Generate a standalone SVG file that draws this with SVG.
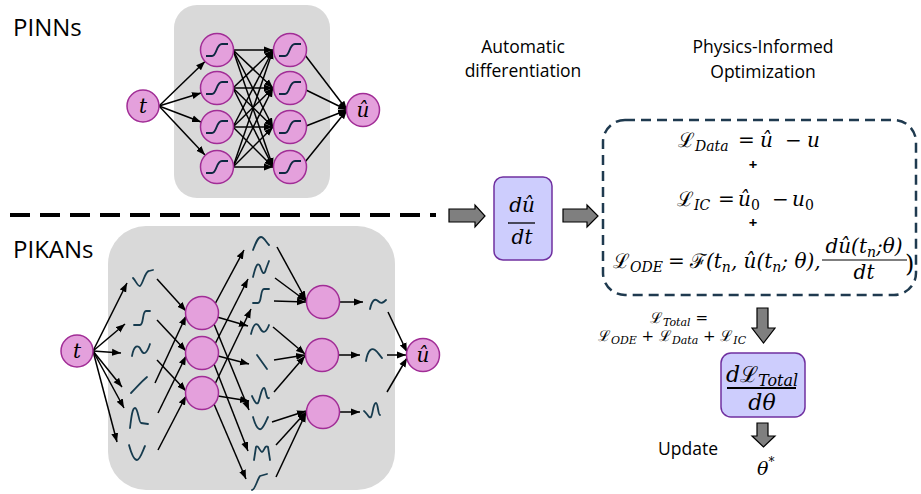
<svg xmlns="http://www.w3.org/2000/svg" width="921" height="494" viewBox="0 0 921 494">
<defs>
<marker id="ah" markerUnits="userSpaceOnUse" markerWidth="10" markerHeight="8" refX="9" refY="4" orient="auto"><path d="M0,0.5 L9,4 L0,7.5z" fill="#000"/></marker>
<path id="sig" d="M-11,6 L-5,6 C0,6 -1,-6 5,-6 L11,-6"/>
</defs>
<style>
.lbl{font-family:"Open Sans","Liberation Sans",sans-serif;fill:#000}
.m{font-family:"DejaVu Serif","Liberation Serif",serif;font-style:italic;fill:#000}
.up{font-style:normal}
.node{fill:#e4a0dc;stroke:#a12d96;stroke-width:1.5}
.bg{fill:#d9d9d9}
.cn line{stroke:#000;stroke-width:1.5;marker-end:url(#ah)}
.sp{fill:none;stroke:#163b4e;stroke-width:1.8;stroke-linecap:round;stroke-linejoin:round}
.sg{fill:none;stroke:#0e2841;stroke-width:1.8;stroke-linejoin:round}
.blk{fill:#7f7f7f;stroke:#000;stroke-width:1.2}
.box{fill:#cdcdfd;stroke:#7030a0;stroke-width:1.5}
</style>

<!-- labels -->
<text class="lbl" x="13" y="36" font-size="24">PINNs</text>
<text class="lbl" x="13" y="258" font-size="24">PIKANs</text>
<text class="lbl" x="523" y="53" font-size="17.5" text-anchor="middle">Automatic</text>
<text class="lbl" x="523" y="77" font-size="17.5" text-anchor="middle">differentiation</text>
<text class="lbl" x="763" y="53" font-size="17.5" text-anchor="middle">Physics-Informed</text>
<text class="lbl" x="763" y="78" font-size="17.5" text-anchor="middle">Optimization</text>
<text class="lbl" x="658" y="455" font-size="17.5">Update</text>

<!-- separator -->
<line x1="10" y1="215" x2="436" y2="215" stroke="#000" stroke-width="4" stroke-dasharray="20 10"/>

<!-- background boxes -->
<rect class="bg" x="174" y="5" width="156" height="193" rx="23"/>
<rect class="bg" x="108" y="226" width="287" height="264" rx="38"/>

<!-- connectors -->
<g id="connectors" class="cn">
<line x1="159" y1="106" x2="205" y2="61.5"/>
<line x1="159" y1="106" x2="201" y2="93"/>
<line x1="159" y1="106" x2="201" y2="122"/>
<line x1="159" y1="106" x2="205" y2="155"/>
<line x1="233" y1="50" x2="273" y2="50"/><line x1="233" y1="50" x2="273" y2="88"/><line x1="233" y1="50" x2="273" y2="127"/><line x1="233" y1="50" x2="273" y2="167"/>
<line x1="233" y1="88" x2="273" y2="50"/><line x1="233" y1="88" x2="273" y2="88"/><line x1="233" y1="88" x2="273" y2="127"/><line x1="233" y1="88" x2="273" y2="167"/>
<line x1="233" y1="127" x2="273" y2="50"/><line x1="233" y1="127" x2="273" y2="88"/><line x1="233" y1="127" x2="273" y2="127"/><line x1="233" y1="127" x2="273" y2="167"/>
<line x1="233" y1="167" x2="273" y2="50"/><line x1="233" y1="167" x2="273" y2="88"/><line x1="233" y1="167" x2="273" y2="127"/><line x1="233" y1="167" x2="273" y2="167"/>
<line x1="305" y1="55" x2="347" y2="110"/>
<line x1="306" y1="90" x2="347" y2="110"/>
<line x1="306" y1="126" x2="347" y2="110"/>
<line x1="305" y1="162" x2="347" y2="110"/>

<line x1="93" y1="351" x2="127" y2="283"/>
<line x1="93" y1="351" x2="125" y2="324"/>
<line x1="93" y1="351" x2="121" y2="353"/>
<line x1="93" y1="351" x2="122" y2="387"/>
<line x1="93" y1="351" x2="124" y2="408"/>
<line x1="93" y1="351" x2="117" y2="442"/>
<line x1="157" y1="279" x2="186" y2="311"/>
<line x1="157" y1="320" x2="186" y2="351"/>
<line x1="157" y1="360" x2="186" y2="391"/>
<line x1="155" y1="383" x2="186" y2="316"/>
<line x1="158" y1="413" x2="186" y2="356"/>
<line x1="158" y1="450" x2="186" y2="396"/>
<line x1="215" y1="304" x2="244" y2="250"/>
<line x1="217" y1="317" x2="248" y2="326"/>
<line x1="214" y1="324" x2="249" y2="410"/>
<line x1="215" y1="344" x2="248" y2="279"/>
<line x1="218" y1="356" x2="249" y2="364"/>
<line x1="214" y1="364" x2="248" y2="451"/>
<line x1="215" y1="384" x2="251" y2="309"/>
<line x1="218" y1="396" x2="249" y2="401"/>
<line x1="214" y1="404" x2="246" y2="479"/>
<line x1="277" y1="247" x2="306" y2="300"/>
<line x1="275" y1="278" x2="306" y2="301"/>
<line x1="274" y1="301" x2="306" y2="302"/>
<line x1="273" y1="327" x2="305" y2="354"/>
<line x1="274" y1="360" x2="305" y2="355"/>
<line x1="274" y1="392" x2="305" y2="356"/>
<line x1="272" y1="422" x2="306" y2="411"/>
<line x1="276" y1="445" x2="306" y2="412"/>
<line x1="276" y1="477" x2="306" y2="413"/>
<line x1="340" y1="302" x2="363" y2="302"/>
<line x1="339" y1="355" x2="360" y2="355"/>
<line x1="340" y1="412" x2="360" y2="412"/>
<line x1="388" y1="312" x2="407" y2="352"/>
<line x1="387" y1="355" x2="406" y2="355"/>
<line x1="387" y1="392" x2="407" y2="358"/>
</g>

<!-- PINN nodes -->
<g id="pinn-t"><circle class="node" cx="143" cy="106" r="16"/><text class="m" x="143" y="113" font-size="20" text-anchor="middle">t</text></g>
<g id="pinn-h1a"><circle class="node" cx="217" cy="50" r="16.5"/><use href="#sig" class="sg" x="217" y="50"/></g>
<g id="pinn-h1b"><circle class="node" cx="217" cy="88" r="16.5"/><use href="#sig" class="sg" x="217" y="88"/></g>
<g id="pinn-h1c"><circle class="node" cx="217" cy="127" r="16.5"/><use href="#sig" class="sg" x="217" y="127"/></g>
<g id="pinn-h1d"><circle class="node" cx="217" cy="167" r="16.5"/><use href="#sig" class="sg" x="217" y="167"/></g>
<g id="pinn-h2a"><circle class="node" cx="290" cy="50" r="16.5"/><use href="#sig" class="sg" x="290" y="50"/></g>
<g id="pinn-h2b"><circle class="node" cx="290" cy="88" r="16.5"/><use href="#sig" class="sg" x="290" y="88"/></g>
<g id="pinn-h2c"><circle class="node" cx="290" cy="127" r="16.5"/><use href="#sig" class="sg" x="290" y="127"/></g>
<g id="pinn-h2d"><circle class="node" cx="290" cy="167" r="16.5"/><use href="#sig" class="sg" x="290" y="167"/></g>
<g id="pinn-out"><circle class="node" cx="363" cy="110" r="16.5"/><text class="m" x="363" y="117" font-size="20" text-anchor="middle">û</text></g>

<!-- PIKAN nodes -->
<g id="kan-t"><circle class="node" cx="77" cy="351" r="16"/><text class="m" x="77" y="358" font-size="20" text-anchor="middle">t</text></g>
<g id="kan-l1"><circle class="node" cx="202" cy="313" r="16.5"/></g>
<g id="kan-l2"><circle class="node" cx="202" cy="353" r="16.5"/></g>
<g id="kan-l3"><circle class="node" cx="202" cy="393" r="16.5"/></g>
<g id="kan-m1"><circle class="node" cx="323" cy="302" r="16.5"/></g>
<g id="kan-m2"><circle class="node" cx="322" cy="355" r="16.5"/></g>
<g id="kan-m3"><circle class="node" cx="323" cy="412" r="16.5"/></g>
<g id="kan-out"><circle class="node" cx="423" cy="355" r="16.5"/><text class="m" x="423" y="362" font-size="20" text-anchor="middle">û</text></g>

<!-- spline glyphs -->
<g id="kan-splines" class="sp">
<path transform="translate(143,279)" d="M-10,-1 C-7,2 -5,8 -3,7 C0,5 2,-8 6,-8 L10,-9"/>
<path transform="translate(142,318)" d="M-8,7 L-2,7 C2,7 0,-7 4,-7 L8,-7"/>
<path transform="translate(141,350)" d="M-9,6 C-7,-5 -3,-6 0,0 C3,6 6,3 9,-6"/>
<path transform="translate(139,385)" d="M-8,8 C-3,3 3,-4 8,-8"/>
<path transform="translate(139,418)" d="M-9,10 C-8,2 -7,-10 -4,-10 C-1,-10 0,5 2,5 L9,6"/>
<path transform="translate(137,452)" d="M-8,-7 C-5,4 -2,8 0,8 C3,8 6,-2 8,-6"/>
<path transform="translate(261,244)" d="M-8,6 C-5,-2 -3,-7 0,-7 C3,-7 5,-2 8,1"/>
<path transform="translate(261,269)" d="M-8,8 C-6,0 -4,-8 -1,-3 C1,3 3,8 5,0 L8,-8"/>
<path transform="translate(261,296)" d="M-8,7 L-3,7 C1,7 -1,-7 3,-7 L8,-7"/>
<path transform="translate(260,328)" d="M-9,6 C-6,-6 -3,-6 0,0 C3,6 6,5 9,-3"/>
<path transform="translate(262,362)" d="M-5,-7 L5,7"/>
<path transform="translate(261,396)" d="M-9,0 C-7,4 -5,9 -3,7 C-1,4 0,-8 3,-8 C5,-8 5,4 8,2"/>
<path transform="translate(260,423)" d="M-7,-6 C-4,5 -1,7 1,6 C4,4 6,-2 8,-6"/>
<path transform="translate(262,452)" d="M-8,8 L-6,-5 C-4,-8 -2,0 0,0 C2,0 3,-8 6,-5 L8,8"/>
<path transform="translate(260,482)" d="M-8,8 C-5,8 -3,-2 0,-6 L7,-8"/>
<path transform="translate(378,303)" d="M-8,6 C-6,-3 -3,-5 0,-2 C3,1 5,0 8,-3"/>
<path transform="translate(374,355)" d="M-8,6 C-6,-6 -2,-7 1,-5 C4,-3 6,1 8,3"/>
<path transform="translate(372,411)" d="M-8,0 C-5,2 -3,8 -1,6 C1,3 1,-8 4,-8 C6,-8 6,4 8,4"/>
</g>

<!-- block arrows -->
<g id="arrow-1"><path class="blk" d="M449,209 L475,209 L475,205 L485,216 L475,227 L475,222 L449,222 Z"/></g>
<g id="arrow-2"><path class="blk" d="M563,209 L587,209 L587,205 L598,216 L587,227 L587,222 L563,222 Z"/></g>
<g id="arrow-3"><path class="blk" d="M757,308 L768,308 L768,328 L775,328 L763.5,343 L752,328 L757,328 Z"/></g>
<g id="arrow-4"><path class="blk" d="M757,423 L768,423 L768,436 L775,436 L763.5,447 L752,436 L757,436 Z"/></g>

<!-- du/dt box -->
<g id="autodiff">
<rect class="box" x="494" y="177" width="58" height="83" rx="9"/>
<text class="m" x="522" y="212" font-size="20" text-anchor="middle">dû</text>
<line x1="508" y1="223" x2="535" y2="223" stroke="#000" stroke-width="1.3"/>
<text class="m" x="522" y="244" font-size="20" text-anchor="middle">dt</text>
</g>

<!-- loss box -->
<g id="losses">
<rect x="603" y="120" width="313" height="175" rx="22" fill="none" stroke="#1f3a4f" stroke-width="2.5" stroke-dasharray="10 6"/>
<text class="m" font-size="20" y="147"><tspan class="up" x="678">ℒ</tspan><tspan font-size="14" dy="4">Data</tspan><tspan class="up" x="738" dy="-4">=</tspan><tspan x="760">û</tspan><tspan class="up" x="785">−</tspan><tspan x="807">u</tspan></text>
<text class="lbl" x="753" y="170" font-size="15" font-weight="bold" text-anchor="middle">+</text>
<text class="m" font-size="20" y="206"><tspan class="up" x="677">ℒ</tspan><tspan font-size="14" dy="4">IC</tspan><tspan class="up" x="718" dy="-4">=</tspan><tspan x="738">û</tspan><tspan class="up" font-size="14" dy="4">0</tspan><tspan class="up" x="772" dy="-4">−</tspan><tspan x="792">u</tspan><tspan class="up" font-size="14" dy="4">0</tspan></text>
<text class="lbl" x="753" y="228" font-size="15" font-weight="bold" text-anchor="middle">+</text>
<text class="m" font-size="20" y="268"><tspan class="up" x="613">ℒ</tspan><tspan font-size="14" dy="4">ODE</tspan><tspan class="up" x="668" dy="-4">=</tspan><tspan class="up" x="690">ℱ</tspan><tspan>(t</tspan><tspan font-size="14" dy="4">n</tspan><tspan dy="-4">, û(t</tspan><tspan font-size="14" dy="4">n</tspan><tspan dy="-4">; θ),</tspan></text>
<text class="m" font-size="20" y="253" x="864" text-anchor="middle">dû(t<tspan font-size="14" dy="4">n</tspan><tspan dy="-4">;θ)</tspan></text>
<line x1="822" y1="260" x2="907" y2="260" stroke="#000" stroke-width="1.2"/>
<text class="m" font-size="20" x="864" y="279" text-anchor="middle">dt</text>
<text class="m up" font-size="24" x="905" y="272">)</text>
</g>

<!-- total loss -->
<g id="total">
<text class="m" font-size="15" x="679" y="323" text-anchor="middle"><tspan class="up">ℒ</tspan><tspan font-size="11" dy="3">Total</tspan><tspan class="up" dy="-3"> =</tspan></text>
<text class="m" font-size="15" x="672" y="341" text-anchor="middle"><tspan class="up">ℒ</tspan><tspan font-size="11" dy="3">ODE</tspan><tspan class="up" dy="-3"> + ℒ</tspan><tspan font-size="11" dy="3">Data</tspan><tspan class="up" dy="-3"> + ℒ</tspan><tspan font-size="11" dy="3">IC</tspan></text>
</g>

<g id="grad">
<rect class="box" x="721" y="353" width="84" height="64" rx="10"/>
<text class="m" font-size="22" x="762" y="382" text-anchor="middle">d<tspan class="up">ℒ</tspan><tspan font-size="16" dy="4">Total</tspan></text>
<line x1="727" y1="388" x2="796" y2="388" stroke="#000" stroke-width="2"/>
<text class="m" font-size="22" x="762" y="410" text-anchor="middle">dθ</text>
</g>

<g id="theta">
<text class="m" font-size="19" x="757" y="475">θ<tspan class="up" font-size="12" dy="-9">*</tspan></text>
</g>
</svg>
